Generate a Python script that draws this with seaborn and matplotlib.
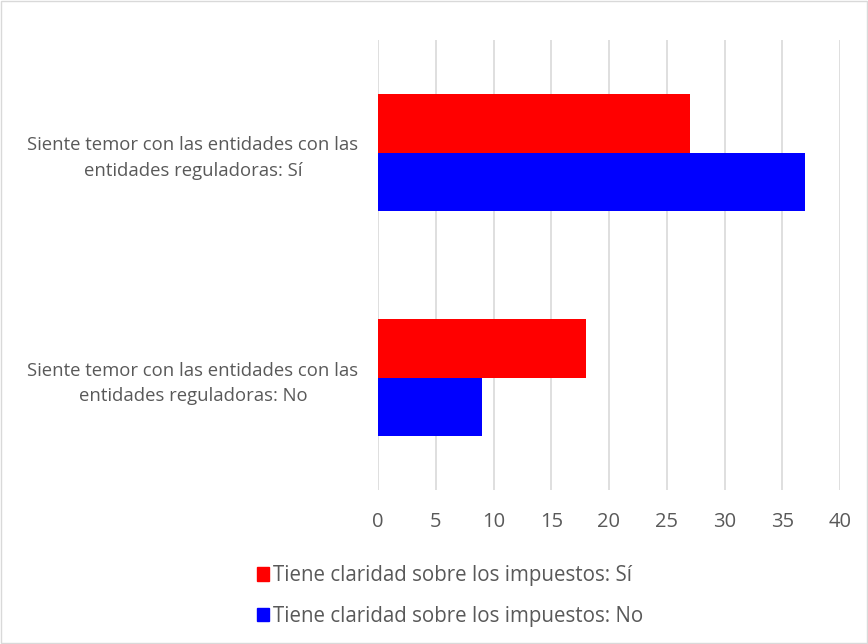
import pandas as pd
import matplotlib.pyplot as plt
import seaborn as sns
from matplotlib.patches import Rectangle

# data
categories = ["Siente temor con las entidades con las\nentidades reguladoras: Sí",
              "Siente temor con las entidades con las\nentidades reguladoras: No"]
series = ["Tiene claridad sobre los impuestos: Sí",
          "Tiene claridad sobre los impuestos: No"]
vals_si = [27, 18]
vals_no = [37, 9]
colors = ["#FF0000", "#0000FF"]

df = pd.DataFrame({
    "categoria": categories * 2,
    "serie": [series[0]] * 2 + [series[1]] * 2,
    "valor": vals_si + vals_no,
})

sns.set_style("white")
plt.rcParams['font.family'] = ['Open Sans', 'DejaVu Sans']
txt = "#595959"

fig = plt.figure(figsize=(8.68, 6.44), dpi=100)
ax = fig.add_axes([378 / 868, 1 - 490 / 644, 462 / 868, 450 / 644])

sns.barplot(data=df, y="categoria", x="valor", hue="serie", palette=colors,
            orient="h", width=0.52, saturation=1, linewidth=0, ax=ax, legend=False)

ax.set_xlim(0, 40)
ax.set_xticks(range(0, 41, 5))
ax.grid(axis="x", color="#D9D9D9", linewidth=1.2)
ax.grid(axis="y", visible=False)
ax.set_axisbelow(True)
for s in ax.spines.values():
    s.set_visible(False)
ax.set_xlabel("")
ax.set_ylabel("")
ax.tick_params(axis="x", length=0, pad=16, labelsize=14.5, labelcolor=txt)
ax.tick_params(axis="y", length=0, pad=14, labelsize=13.3, labelcolor=txt)
for lab in ax.get_yticklabels():
    lab.set_multialignment("center")
    lab.set_linespacing(1.55)

handles = [Rectangle((0, 0), 1, 1, color=c) for c in colors]
fig.legend(handles, series, loc="center", bbox_to_anchor=(450 / 868, 1 - 596 / 644),
           frameon=False, fontsize=14.8, labelcolor=txt, handlelength=0.6, handleheight=0.6,
           handletextpad=0.2, labelspacing=0.95)

# light border around the chart area
fig.patches.append(Rectangle((0.001, 0.001), 0.998, 0.998, transform=fig.transFigure,
                             fill=False, edgecolor="#D9D9D9", linewidth=1))

fig.savefig("out.png", dpi=100)
